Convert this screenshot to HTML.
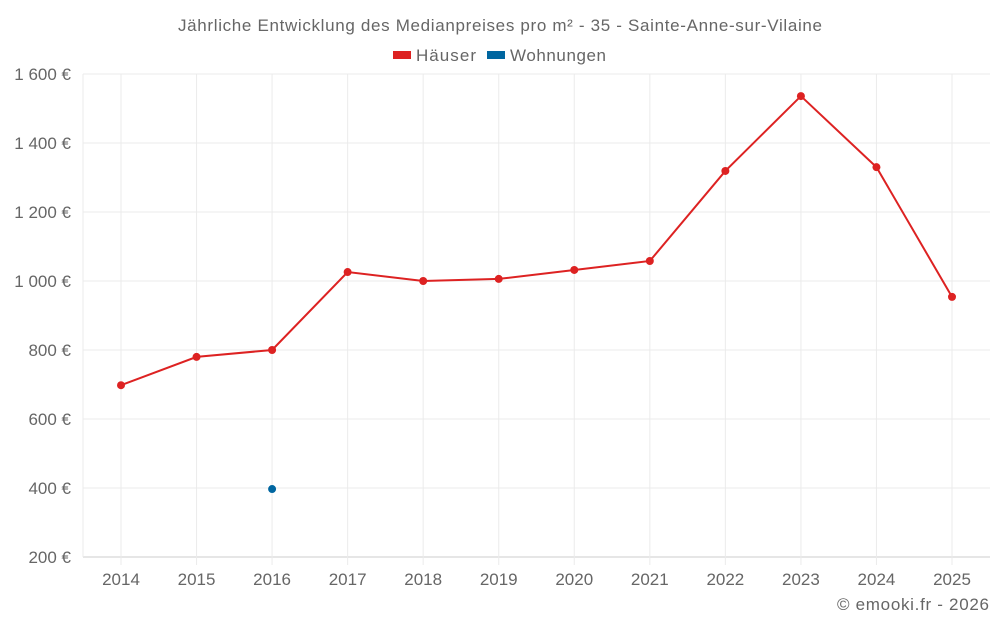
<!DOCTYPE html>
<html><head><meta charset="utf-8"><style>
body{margin:0;background:#fff;font-family:"Liberation Sans",sans-serif;}
svg text{font-family:"Liberation Sans",sans-serif;fill:#666;}
</style></head><body>
<svg id="chart" width="1000" height="625">
<text x="178" y="31" font-size="17" textLength="644" lengthAdjust="spacing">Jährliche Entwicklung des Medianpreises pro m² - 35 - Sainte-Anne-sur-Vilaine</text>
<g><rect x="393" y="51" width="18" height="8" fill="#dd2222"/><text x="416" y="61" font-size="17" textLength="60">Häuser</text></g>
<g><rect x="487" y="51" width="18" height="8" fill="#0066a0"/><text x="510" y="61" font-size="17" textLength="96">Wohnungen</text></g>
<g id="grid"></g><g id="marks"></g>
<text x="837" y="610" font-size="17" textLength="152">© emooki.fr - 2026</text>
</svg>
<script>
const years=[2014,2015,2016,2017,2018,2019,2020,2021,2022,2023,2024,2025];
const houses=[698,780,800,1026,1000,1006,1032,1058,1319,1536,1330,954];
const apartments=[null,null,397,null,null,null,null,null,null,null,null,null];
const yTicks=[200,400,600,800,1000,1200,1400,1600];
const yLabels=["200 €","400 €","600 €","800 €","1 000 €","1 200 €","1 400 €","1 600 €"];
const L=83,R=990,T=74,B=557,NS="http://www.w3.org/2000/svg";
const x=i=>121+i*(952-121)/(years.length-1);
const y=v=>B-(v-200)/(1600-200)*(B-T);
const g=document.getElementById('grid'),m=document.getElementById('marks');
function el(t,a,p){const e=document.createElementNS(NS,t);for(const k in a)e.setAttribute(k,a[k]);p.appendChild(e);return e;}
yTicks.forEach((v,i)=>{
 const ln=el('line',{x1:L,x2:R,y1:y(v),y2:y(v),stroke:i==0?'#ccc':'#ebebeb'},g);
 
 
 const t=el('text',{x:71,y:y(v)+6,'text-anchor':'end','font-size':17},g);t.textContent=yLabels[i];
 
 
});
el('line',{x1:L,x2:L,y1:T,y2:B,stroke:'#ebebeb'},g);
years.forEach((yr,i)=>{
 const ln=el('line',{x1:x(i),x2:x(i),y1:T,y2:B+8,stroke:'#ebebeb'},g);
 
 
 const t=el('text',{x:x(i),y:585,'text-anchor':'middle','font-size':17},g);t.textContent=yr;
 
 
});
const pts=houses.map((v,i)=>x(i)+','+y(v)).join(' ');
const pl=el('polyline',{points:pts,fill:'none',stroke:'#dd2222','stroke-width':2},m);


houses.forEach((v,i)=>{
 const c=el('circle',{cx:x(i),cy:y(v),r:4,fill:'#dd2222'},m);
 
 
});
apartments.forEach((v,i)=>{if(v==null)return;
 const c=el('circle',{cx:x(i),cy:y(v),r:4,fill:'#0066a0'},m);
 
 
});
</script>
</body></html>
